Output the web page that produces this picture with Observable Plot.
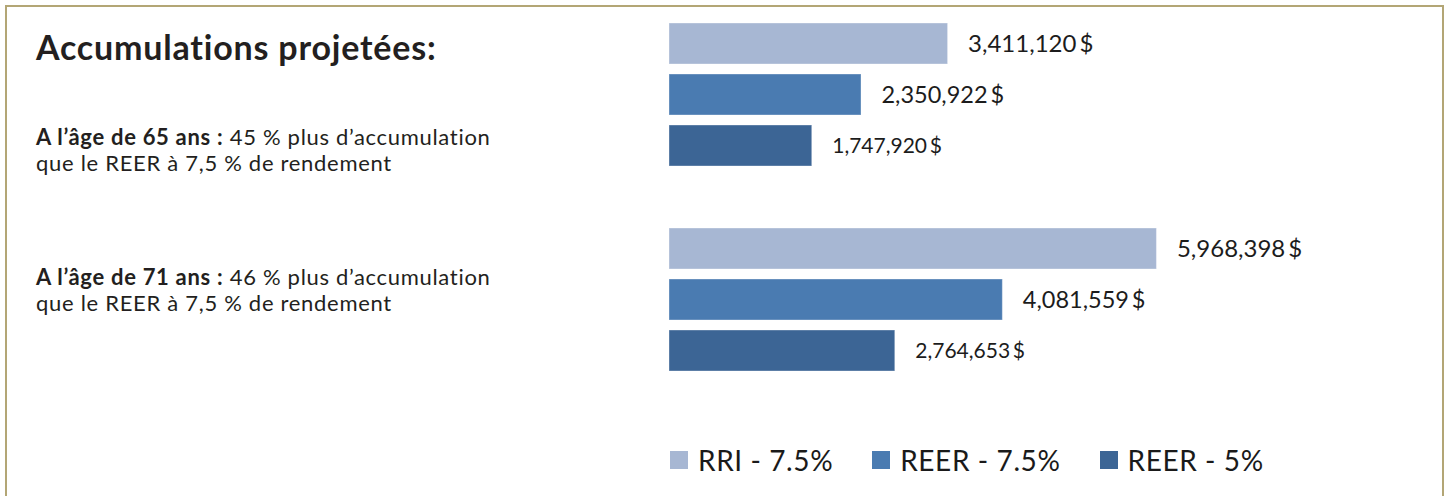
<!DOCTYPE html>
<html>
<head>
<meta charset="utf-8">
<script src="https://cdn.jsdelivr.net/npm/d3@7"></script>
<script src="https://cdn.jsdelivr.net/npm/@observablehq/plot@0.6"></script>
<style>
  html, body { margin: 0; padding: 0; background: #fff; }
  #wrap { position: relative; width: 1448px; height: 496px; overflow: hidden; background: #fff; }
  #frame { position: absolute; left: 5px; top: 5px; width: 1439px; height: 700px; border: 2px solid #b3a675; box-sizing: border-box; }
  #chart { position: absolute; left: 0; top: 0; }
  .txt { position: absolute; left: 36px; font-family: Lato, "Open Sans", sans-serif; color: #231f20; white-space: nowrap; }
  #title { top: 27px; font-size: 34px; line-height: 40px; font-weight: 700; letter-spacing: 0.8px; }
  .note { font-size: 22px; line-height: 26px; letter-spacing: 0.7px; }
  .note b { font-weight: 700; }
  #legend { position: absolute; left: 670px; top: 443px; }
  .lg-swatches { font-family: Lato, sans-serif !important; font-size: 28px !important; letter-spacing: 0.6px; color: #1a1a1a !important; margin: 0 !important; }
  .lg-swatch { margin-right: 39px !important; }
  .lg-swatch > svg { margin-right: 10px !important; }
</style>
</head>
<body>
<div id="wrap">
  <div id="frame"></div>
  <div id="chart"></div>
  <div id="title" class="txt">Accumulations projetées:</div>
  <div id="note65" class="txt note" style="top:124px"><b>A l’âge de 65 ans :</b> 45 % plus d’accumulation<br>que le REER à 7,5 % de rendement</div>
  <div id="note71" class="txt note" style="top:264px"><b>A l’âge de 71 ans :</b> 46 % plus d’accumulation<br>que le REER à 7,5 % de rendement</div>
  <div id="legend"></div>
</div>
<script>
const ages = ["65", "71"];
const series = ["RRI - 7.5%", "REER - 7.5%", "REER - 5%"];
const values65 = [3411120, 2350922, 1747920];
const values71 = [5968398, 4081559, 2764653];
const colors = ["#a7b7d3", "#4a7bb1", "#3c6595"];

const valuesByAge = {"65": values65, "71": values71};
const data = ages.flatMap(age => series.map((s, i) => ({age, series: s, value: valuesByAge[age][i]})));
const fmt = d3.format(",");
const labelSize = {"RRI - 7.5%": 24, "REER - 7.5%": 23.5, "REER - 5%": 21};

const chart = Plot.plot({
  width: 1448,
  height: 391,
  marginLeft: 669,
  marginRight: 44,
  marginTop: 12,
  marginBottom: 10,
  x: {domain: [0, 9000000], axis: null},
  y: {domain: series, paddingInner: 0.2, paddingOuter: 0.2, axis: null},
  fy: {domain: ages, paddingInner: 0.2, paddingOuter: 0, axis: null},
  color: {domain: series, range: colors},
  marks: [
    Plot.barX(data, {x: "value", y: "series", fy: "age", fill: "series", stroke: "#ffffff", strokeOpacity: 0.35, strokeWidth: 1}),
    Plot.text(data, {
      x: "value", y: "series", fy: "age",
      text: d => fmt(d.value) + "\u2009$",
      dx: 20, textAnchor: "start",
      fontSize: d => labelSize[d.series],
      fontFamily: "Lato", fill: "#1c1c1c"
    })
  ]
});
document.getElementById("chart").appendChild(chart);

const legend = Plot.legend({
  color: {type: "ordinal", domain: series, range: colors},
  swatchSize: 18,
  className: "lg"
});
document.getElementById("legend").appendChild(legend);
</script>
</body>
</html>
